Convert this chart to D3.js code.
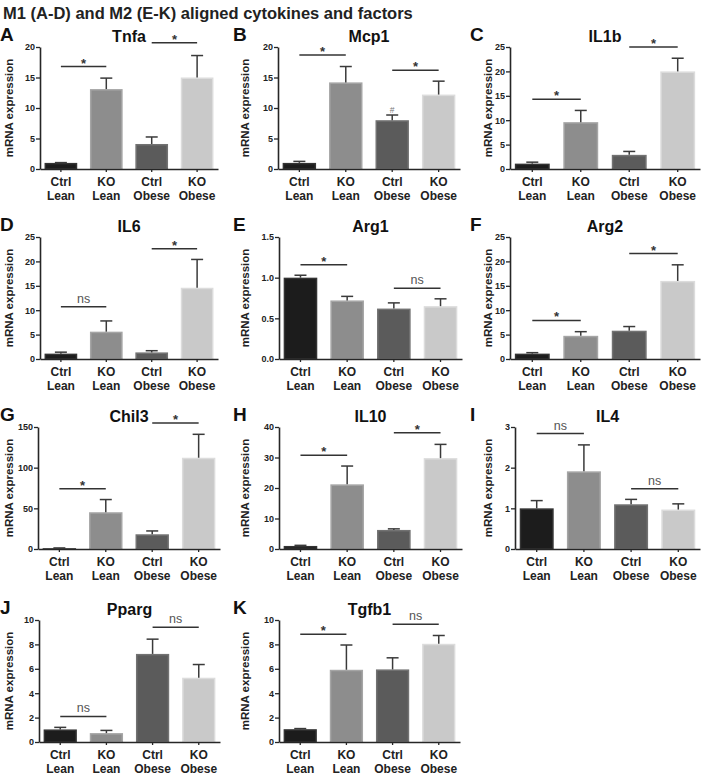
<!DOCTYPE html>
<html>
<head>
<meta charset="utf-8">
<script src="https://cdn.jsdelivr.net/npm/d3@7"></script>
<style>
  body { margin: 0; background: #fff; }
  text { font-family: "Liberation Sans", Arial, sans-serif; }
</style>
</head>
<body>
<svg id="fig" width="701" height="777"></svg>
<script>
// ---- data ----
var groups = ["Ctrl Lean", "KO Lean", "Ctrl Obese", "KO Obese"];
var genes = ["Tnfa", "Mcp1", "IL1b", "IL6", "Arg1", "Arg2", "Chil3", "IL10", "IL4", "Pparg", "Tgfb1"];
var letters = ["A", "B", "C", "D", "E", "F", "G", "H", "I", "J", "K"];

var means = [
  [1.0, 13.1, 4.1, 15.0],
  [1.0, 14.2, 8.0, 12.2],
  [1.1, 9.6, 2.9, 20.0],
  [1.1, 5.6, 1.35, 14.6],
  [1.0, 0.72, 0.62, 0.65],
  [1.1, 4.75, 5.8, 16.0],
  [1.0, 45.2, 18.1, 112.2],
  [1.0, 21.2, 6.25, 29.8],
  [1.0, 1.91, 1.10, 0.97],
  [1.03, 0.73, 7.22, 5.27],
  [1.05, 5.92, 5.95, 8.05]
];
var errs = [
  [0.05, 1.8, 1.15, 3.6],
  [0.25, 2.6, 0.85, 2.2],
  [0.3, 2.4, 0.7, 2.7],
  [0.3, 2.2, 0.35, 5.8],
  [0.03, 0.05, 0.07, 0.09],
  [0.2, 0.85, 0.85, 3.3],
  [0.3, 15.6, 4.1, 28.8],
  [0.2, 6.0, 0.35, 4.5],
  [0.19, 0.65, 0.12, 0.14],
  [0.17, 0.22, 1.21, 1.08],
  [0.05, 2.03, 0.95, 0.68]
];
var yMax = [20, 20, 25, 25, 1.5, 25, 150, 40, 3, 10, 10];
var yStep = [5, 5, 5, 5, 0.5, 5, 50, 10, 1, 2, 2];

// [panel, from group, to group, y value, label]
var brackets = [
  [0, 0, 1, 16.8, "*"], [0, 2, 3, 20.7, "*"],
  [1, 0, 1, 18.7, "*"], [1, 2, 3, 16.2, "*"],
  [2, 0, 1, 14.3, "*"], [2, 2, 3, 25.0, "*"],
  [3, 0, 1, 10.7, "ns"], [3, 2, 3, 22.6, "*"],
  [4, 0, 1, 1.16, "*"], [4, 2, 3, 0.87, "ns"],
  [5, 0, 1, 7.9, "*"], [5, 2, 3, 21.6, "*"],
  [6, 0, 1, 74, "*"], [6, 2, 3, 155, "*"],
  [7, 0, 1, 30.7, "*"], [7, 2, 3, 38.1, "*"],
  [8, 0, 1, 2.84, "ns"], [8, 2, 3, 1.48, "ns"],
  [9, 0, 1, 2.1, "ns"], [9, 2, 3, 9.4, "ns"],
  [10, 0, 1, 8.84, "*"], [10, 2, 3, 9.65, "ns"]
];
// [panel, group, symbol]
var marks = [[1, 2, "#"]];

// ---- layout ----
var panelLeft  = [40, 278, 510, 40, 279, 510, 38, 279, 515, 39, 279];
var panelRight = [218, 460, 700, 218, 462, 700, 220, 462, 700, 220, 460];
var rowTop = [47, 237, 427, 620];
var colLetterX = [0, 233, 470];
var colLabelX = [10, 246, 489];
var plotH = 122;

var fills = ["#1c1c1c", "#8d8d8d", "#5b5b5b", "#c9c9c9"];
var edges = ["#333333", "#a5a5a5", "#727272", "#dcdcdc"];
var ink = "#262626";

var svg = d3.select("#fig");
svg.append("rect").attr("width", 701).attr("height", 777).attr("fill", "#fff");

svg.append("text")
  .attr("x", 3).attr("y", 19)
  .attr("font-size", 16.5).attr("font-weight", "bold").attr("fill", "#222")
  .text("M1 (A-D) and M2 (E-K) aligned cytokines and factors");

function scalesFor(p) {
  var bottom = rowTop[Math.floor(p / 3)] + plotH;
  var x = d3.scaleBand().domain(groups).range([panelLeft[p], panelRight[p]])
    .paddingInner(0.28).paddingOuter(0.1);
  var y = d3.scaleLinear().domain([0, yMax[p]]).range([bottom, bottom - plotH]);
  return {x: x, y: y};
}

genes.forEach(function(gene, p) {
  var row = Math.floor(p / 3), col = p % 3;
  var top = rowTop[row], bottom = top + plotH;
  var left = panelLeft[p], right = panelRight[p];
  var s = scalesFor(p), x = s.x, y = s.y;

  var g = svg.append("g");

  // letter + title
  g.append("text").attr("x", colLetterX[col]).attr("y", top - 6)
    .attr("font-size", 19).attr("font-weight", "bold").attr("fill", "#111")
    .text(letters[p]);
  g.append("text").attr("x", (left + right) / 2).attr("y", top - 5)
    .attr("text-anchor", "middle")
    .attr("font-size", 16).attr("font-weight", "bold").attr("fill", "#111")
    .text(gene);

  // y label
  g.append("text")
    .attr("transform", "translate(" + colLabelX[col] + "," + (top + plotH / 2) + ") rotate(-90)")
    .attr("text-anchor", "middle").attr("dominant-baseline", "middle")
    .attr("font-size", 11.5).attr("font-weight", "bold").attr("fill", "#222")
    .text("mRNA expression");

  // bars
  g.selectAll("rect.bar").data(means[p]).enter().append("rect")
    .attr("class", "bar")
    .attr("x", function(d, i) { return x(groups[i]) + 0.75; })
    .attr("width", x.bandwidth() - 1.5)
    .attr("y", function(d) { return y(d) + 0.75; })
    .attr("height", function(d) { return Math.max(0, bottom - y(d) - 0.75); })
    .attr("fill", function(d, i) { return fills[i]; })
    .attr("stroke", function(d, i) { return edges[i]; })
    .attr("stroke-width", 1.5);

  // error bars (upper only)
  var capW = 12;
  means[p].forEach(function(m, i) {
    var cx = x(groups[i]) + x.bandwidth() / 2;
    var yt = y(m + errs[p][i]);
    g.append("line").attr("x1", cx).attr("x2", cx)
      .attr("y1", y(m)).attr("y2", yt)
      .attr("stroke", "#3a3a3a").attr("stroke-width", 1.5);
    g.append("line").attr("x1", cx - capW / 2).attr("x2", cx + capW / 2)
      .attr("y1", yt).attr("y2", yt)
      .attr("stroke", "#3a3a3a").attr("stroke-width", 1.5);
  });

  // axes
  var fmt = yStep[p] < 1 ? d3.format(".1f") : d3.format("d");
  var yAxis = g.append("g").attr("transform", "translate(" + left + ",0)")
    .call(d3.axisLeft(y).tickValues(d3.range(0, yMax[p] + yStep[p] / 2, yStep[p]))
      .tickSize(4).tickSizeOuter(0).tickPadding(1).tickFormat(fmt));
  var xAxis = g.append("g").attr("transform", "translate(0," + bottom + ")")
    .call(d3.axisBottom(x).tickSize(3).tickSizeOuter(0).tickFormat(""));
  [yAxis, xAxis].forEach(function(a) {
    a.select(".domain").attr("stroke", ink).attr("stroke-width", 1.6);
    a.selectAll(".tick line").attr("stroke", ink).attr("stroke-width", 1.3);
    a.selectAll(".tick text").attr("fill", "#222")
      .attr("font-family", "Liberation Sans, Arial, sans-serif")
      .attr("font-size", 9).attr("font-weight", "bold");
  });

  // category labels (two lines)
  groups.forEach(function(name, i) {
    var parts = name.split(" ");
    var cx = x(name) + x.bandwidth() / 2;
    g.append("text").attr("x", cx).attr("y", bottom + 17)
      .attr("text-anchor", "middle").attr("font-size", 12).attr("font-weight", "bold")
      .attr("fill", "#222").text(parts[0]);
    g.append("text").attr("x", cx).attr("y", bottom + 31)
      .attr("text-anchor", "middle").attr("font-size", 12).attr("font-weight", "bold")
      .attr("fill", "#222").text(parts[1]);
  });
});

// significance brackets
brackets.forEach(function(b) {
  var s = scalesFor(b[0]), x = s.x, y = s.y;
  var x1 = x(groups[b[1]]) + x.bandwidth() / 2;
  var x2 = x(groups[b[2]]) + x.bandwidth() / 2;
  var yy = y(b[3]);
  svg.append("line").attr("x1", x1).attr("x2", x2).attr("y1", yy).attr("y2", yy)
    .attr("stroke", "#333").attr("stroke-width", 1.5);
  var isStar = b[4] === "*";
  svg.append("text").attr("x", (x1 + x2) / 2).attr("y", isStar ? yy + 1 : yy - 4)
    .attr("text-anchor", "middle")
    .attr("font-size", isStar ? 13 : 12.5)
    .attr("font-weight", isStar ? "bold" : "normal")
    .attr("fill", isStar ? "#333" : "#555")
    .text(b[4]);
});

// extra symbols above bars
marks.forEach(function(m) {
  var p = m[0], i = m[1];
  var s = scalesFor(p), x = s.x, y = s.y;
  svg.append("text")
    .attr("x", x(groups[i]) + x.bandwidth() / 2)
    .attr("y", y(means[p][i] + errs[p][i]) - 2)
    .attr("text-anchor", "middle").attr("font-size", 8.5).attr("fill", "#777")
    .text(m[2]);
});
</script>
</body>
</html>
